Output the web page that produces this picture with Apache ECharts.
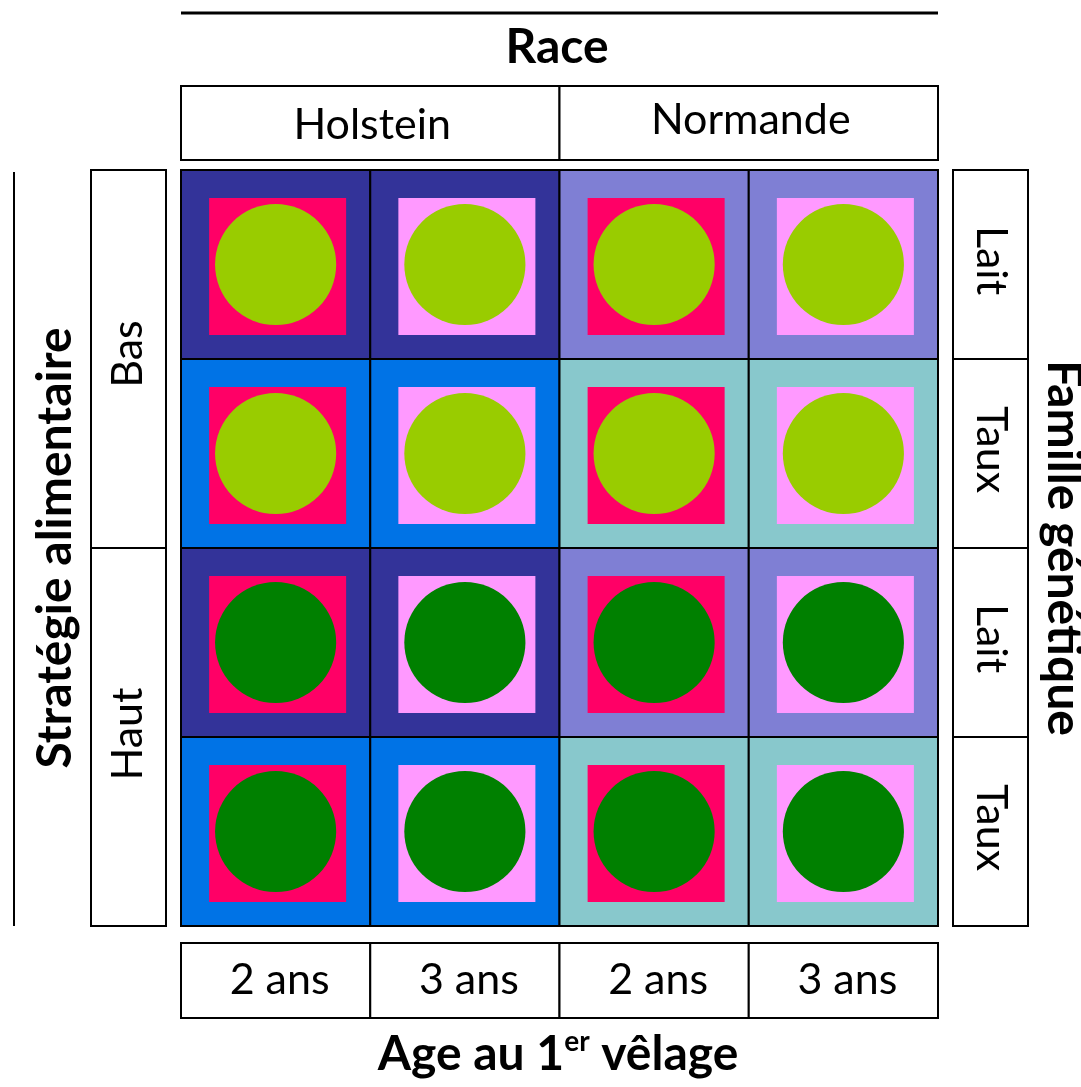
<!DOCTYPE html>
<html><head><meta charset="utf-8">
<script src="https://cdn.jsdelivr.net/npm/echarts@6/dist/echarts.min.js"></script>
<style>html,body{margin:0;padding:0;background:#fff}#c{width:1081px;height:1087px}</style>
</head><body><div id="c"></div>
<script>
// ---- data ----
const races = ['Holstein', 'Normande'];
const ages = ['2 ans', '3 ans'];
const strategies = ['Bas', 'Haut'];
const families = ['Lait', 'Taux'];
const raceTitle = 'Race';
const ageTitle = ['Age au 1', 'er', ' vêlage'];
const strategyTitle = 'Stratégie alimentaire';
const familyTitle = 'Famille génétique';
// colours
const outerColors = [['#333399', '#0073E6'], ['#7F7FD4', '#88C8CC']]; // [race][family]
const ageColors = ['#FF0066', '#FF99FF'];
const strategyColors = ['#99CC00', '#008000'];

// ---- build cells: [col,row,race,age,strategy,family]
const cells = [];
strategies.forEach((s, si) => families.forEach((f, fi) => races.forEach((r, ri) => ages.forEach((a, ai) => {
  cells.push([ri * 2 + ai, si * 2 + fi, ri, ai, si, fi]);
}))));
const colIdx = [0, 1, 2, 3];
const rowIdx = [0, 1, 2, 3];

const FONT = 'Lato';
const LABEL_SIZE = 43;
const TITLE_SIZE = 48;
const chart = echarts.init(document.getElementById('c'));

function renderCell(params, api) {
  const c = api.coord([api.value(0), api.value(1)]);
  const sz = api.size([1, 1]);
  const w = sz[0], h = sz[1];
  const r = api.value(2), a = api.value(3), s = api.value(4), f = api.value(5);
  const iw = w * 0.724, ih = h * 0.724;
  return {
    type: 'group', children: [
      {type: 'rect', shape: {x: c[0] - w / 2, y: c[1] - h / 2, width: w, height: h}, style: {fill: outerColors[r][f], stroke: '#000', lineWidth: 2}},
      {type: 'rect', shape: {x: c[0] - iw / 2 + 2, y: c[1] - ih / 2 + 2, width: iw, height: ih}, style: {fill: ageColors[a]}},
      {type: 'circle', shape: {cx: c[0], cy: c[1], r: w * 0.32}, style: {fill: strategyColors[s]}}
    ]
  };
}
function boxText(x, y, w, h, text, rot, dx, dy) {
  return {
    type: 'group', children: [
      {type: 'rect', shape: {x: x, y: y, width: w, height: h}, style: {fill: '#fff', stroke: '#000', lineWidth: 2}},
      {type: 'text', x: x + w / 2 + (dx || 0), y: y + h / 2 + (dy || 0), rotation: rot || 0,
        style: {text: text, fontFamily: FONT, fontSize: LABEL_SIZE, fill: '#000', align: 'center', verticalAlign: 'middle'}}
    ]
  };
}

const option = {
  animation: false,
  backgroundColor: '#fff',
  grid: {left: 181, top: 170, width: 757, height: 756},
  xAxis: {type: 'category', data: colIdx, show: false},
  yAxis: {type: 'category', data: rowIdx, inverse: true, show: false},
  series: [
    {type: 'custom', data: cells, renderItem: renderCell, clip: false},
    { // race header
      type: 'custom', clip: false,
      data: races.map((r, i) => [i * 2, 0]),
      renderItem: function (params, api) {
        const i = params.dataIndex;
        const sz = api.size([1, 1]);
        const c0 = api.coord([i * 2, 0]), c1 = api.coord([i * 2 + 1, 0]);
        const x0 = c0[0] - sz[0] / 2, x1 = c1[0] + sz[0] / 2;
        const top = c0[1] - sz[1] / 2;
        return boxText(x0, top - 10 - 74, x1 - x0, 74, races[i], 0, 2, i === 0 ? 2 : -3);
      }
    },
    { // age labels bottom
      type: 'custom', clip: false,
      data: colIdx.map(c => [c, 3]),
      renderItem: function (params, api) {
        const col = params.dataIndex;
        const sz = api.size([1, 1]);
        const c = api.coord([col, 3]);
        return boxText(c[0] - sz[0] / 2, c[1] + sz[1] / 2 + 17, sz[0], 75, ages[col % 2], 0, 4, 0);
      }
    },
    { // strategy labels left
      type: 'custom', clip: false,
      data: strategies.map((s, i) => [0, i * 2]),
      renderItem: function (params, api) {
        const i = params.dataIndex;
        const sz = api.size([1, 1]);
        const c0 = api.coord([0, i * 2]), c1 = api.coord([0, i * 2 + 1]);
        const y0 = c0[1] - sz[1] / 2, y1 = c1[1] + sz[1] / 2;
        const left = c0[0] - sz[0] / 2;
        return boxText(left - 15 - 75, y0, 75, y1 - y0, strategies[i], Math.PI / 2, 0, i === 0 ? -5 : -3);
      }
    },
    { // family labels right
      type: 'custom', clip: false,
      data: rowIdx.map(r => [3, r]),
      renderItem: function (params, api) {
        const row = params.dataIndex;
        const sz = api.size([1, 1]);
        const c = api.coord([3, row]);
        return boxText(c[0] + sz[0] / 2 + 15, c[1] - sz[1] / 2, 75, sz[1], families[row % 2], -Math.PI / 2, 0, -4);
      }
    }
  ],
  graphic: [
    {type: 'line', shape: {x1: 181, y1: 13, x2: 938, y2: 13}, style: {stroke: '#000', lineWidth: 3}},
    {type: 'line', shape: {x1: 14, y1: 172, x2: 14, y2: 926}, style: {stroke: '#000', lineWidth: 2}},
    {type: 'text', x: 557, y: 48, style: {text: raceTitle, fontFamily: FONT, fontWeight: 'bold', fontSize: TITLE_SIZE, fill: '#000', align: 'center', verticalAlign: 'middle'}},
    {type: 'text', x: 56, y: 548, rotation: Math.PI / 2, style: {text: strategyTitle, fontFamily: FONT, fontWeight: 'bold', fontSize: TITLE_SIZE, fill: '#000', align: 'center', verticalAlign: 'middle'}},
    {type: 'text', x: 1063, y: 548, rotation: -Math.PI / 2, style: {text: familyTitle, fontFamily: FONT, fontWeight: 'bold', fontSize: TITLE_SIZE, fill: '#000', align: 'center', verticalAlign: 'middle'}},
    {type: 'text', x: 558, y: 1055, style: {
      text: '{a|' + ageTitle[0] + '}{s|' + ageTitle[1] + '}{a|' + ageTitle[2] + '}',
      align: 'center', verticalAlign: 'middle',
      rich: {
        a: {fontFamily: FONT, fontWeight: 'bold', fontSize: TITLE_SIZE, fill: '#000', lineHeight: 54},
        s: {fontFamily: FONT, fontWeight: 'bold', fontSize: 28, fill: '#000', verticalAlign: 'top', lineHeight: 32}
      }
    }}
  ]
};
chart.setOption(option);
</script></body></html>
